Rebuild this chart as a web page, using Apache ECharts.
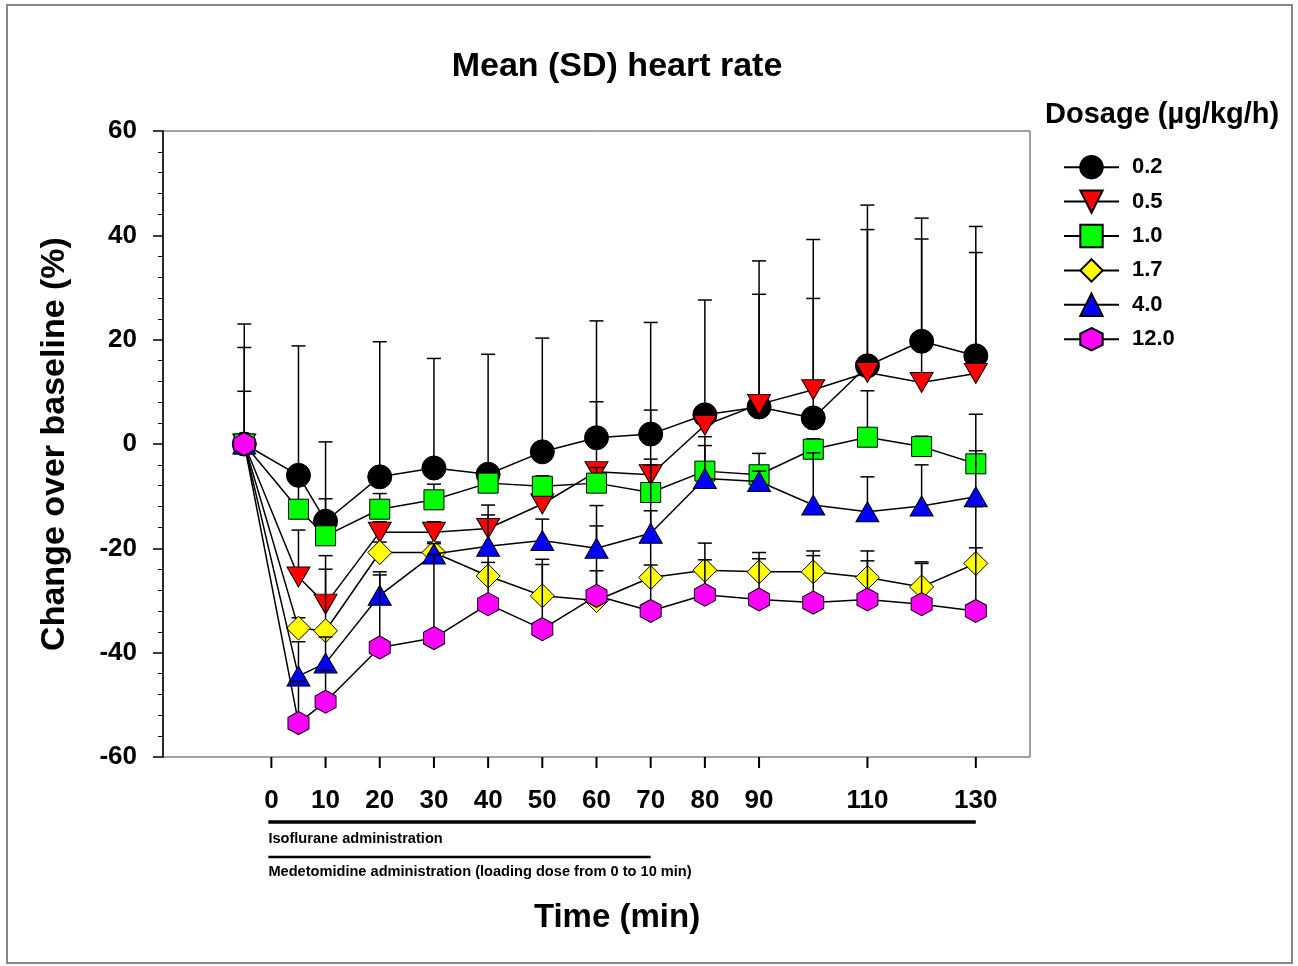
<!DOCTYPE html>
<html><head><meta charset="utf-8">
<script src="https://cdn.jsdelivr.net/npm/echarts@6/dist/echarts.min.js"></script>
<style>html,body{margin:0;padding:0;background:#fff}#c{width:1298px;height:966px}</style>
</head><body><div id="c"></div>
<script>
// ---- data ----
const times = [-5, 5, 10, 20, 30, 40, 50, 60, 70, 80, 90, 100, 110, 120, 130];
const xTickValues = [0, 10, 20, 30, 40, 50, 60, 70, 80, 90, 110, 130];
const yTickMin = -60, yTickMax = 60, yTickStep = 20;
const dosages = ['0.2', '0.5', '1.0', '1.7', '4.0', '12.0'];

const mean02 = [0, -6.0, -14.8, -6.3, -4.6, -5.8, -1.5, 1.2, 1.9, 5.6, 7.1, 5.0, 15.0, 19.7, 16.9];
const sd02   = [23.0, 24.8, 15.2, 25.9, 21.0, 23.0, 21.8, 22.4, 21.4, 22.0, 28.0, 22.9, 30.8, 23.6, 24.8];
const mean05 = [0, -25.5, -30.7, -16.9, -16.9, -16.2, -11.5, -5.3, -5.9, 3.6, 7.6, 10.4, 13.7, 11.8, 13.5];
const sd05   = [18.5, 9.0, 9.3, 2.0, 2.0, 4.5, 2.0, 13.4, 12.4, 2.0, 21.1, 28.8, 27.4, 27.5, 23.2];
const mean10 = [0, -12.5, -17.6, -12.5, -10.7, -7.5, -8.1, -7.5, -9.3, -5.2, -5.9, -1.0, 1.3, -0.5, -3.8];
const sd10   = [10.1, 5.0, 7.1, 3.0, 3.0, 2.0, 2.0, 3.0, 6.4, 4.9, 4.1, 2.0, 8.9, 2.0, 9.5];
const mean17 = [0, -35.3, -35.8, -20.8, -20.8, -25.3, -29.1, -30.0, -25.6, -24.2, -24.5, -24.5, -25.6, -27.4, -22.9];
const sd17   = [0, 2.0, 11.8, 2.0, 2.0, 5.0, 6.0, 14.3, 12.8, 5.2, 2.5, 4.0, 5.1, 4.5, 3.0];
const mean40 = [0, -44.5, -42.0, -29.0, -21.1, -19.6, -18.5, -20.0, -17.1, -6.6, -7.2, -11.7, -13.0, -11.9, -10.1];
const sd40   = [0, 6.6, 5.0, 4.5, 2.0, 6.0, 4.1, 8.2, 13.1, 8.0, 2.0, 10.0, 6.7, 7.9, 8.8];
const mean120 = [0, -53.5, -49.4, -39.0, -37.2, -30.7, -35.5, -29.1, -32.0, -28.9, -29.8, -30.4, -29.8, -30.7, -32.0];
const sd120   = [0, 8.0, 6.0, 13.9, 16.0, 8.0, 13.4, 4.8, 8.8, 6.7, 9.0, 9.0, 7.4, 8.1, 20.0];

const isofluranePeriod = [0, 130];
const medetomidinePeriod = [0, 70];

// ---- styles ----
const FONT = '"Liberation Sans", Arial, sans-serif';
const means = [mean02, mean05, mean10, mean17, mean40, mean120];
const sds = [sd02, sd05, sd10, sd17, sd40, sd120];
const styles = [
  {color: '#000000', symbol: 'circle', size: 24},
  {color: '#ff0000', symbol: 'path://M-1,-0.85 L1,-0.85 L0,0.85 Z', size: [23, 20]},
  {color: '#00ff00', symbol: 'rect', size: 20},
  {color: '#ffff00', symbol: 'diamond', size: 24},
  {color: '#0000ff', symbol: 'triangle', size: [23, 20]},
  {color: '#ff00ff', symbol: 'path://M0,-1 L0.866,-0.5 L0.866,0.5 L0,1 L-0.866,0.5 L-0.866,-0.5 Z', size: [21, 23]}
];

function errRender(params, api) {
  const x = api.value(0), m = api.value(1), h = api.value(2);
  if (h === m) return null;
  const p0 = api.coord([x, m]);
  const p1 = api.coord([x, h]);
  const hw = 7;
  return {type: 'group', children: [
    {type: 'line', shape: {x1: p0[0], y1: p0[1], x2: p1[0], y2: p1[1]}, style: {stroke: '#000', lineWidth: 1.5}},
    {type: 'line', shape: {x1: p1[0] - hw, y1: p1[1], x2: p1[0] + hw, y2: p1[1]}, style: {stroke: '#000', lineWidth: 1.5}}
  ]};
}

// x-axis tick marks only at the labelled times (drawn through the axis scale)
function tickRender(params, api) {
  const p = api.coord([api.value(0), api.value(1)]);
  return {type: 'rect', shape: {x: p[0] - 1, y: p[1], width: 2, height: 11}, style: {fill: '#000'}};
}

const series = [];
dosages.forEach((d, i) => {
  const m = means[i], s = sds[i];
  series.push({
    name: d + ' SD', type: 'custom', z: 10 + 2 * i, renderItem: errRender,
    encode: {x: 0, y: [1, 2]},
    data: times.map((t, k) => [t, m[k], m[k] + s[k]]),
    silent: true
  });
  series.push({
    name: d, type: 'line', z: 11 + 2 * i,
    data: times.map((t, k) => [t, m[k]]),
    symbol: styles[i].symbol, symbolSize: styles[i].size,
    showAllSymbol: true,
    lineStyle: {color: '#000', width: 1.5},
    itemStyle: {color: styles[i].color, borderColor: '#000', borderWidth: 1, opacity: 1},
    emphasis: {disabled: true}
  });
});
series.push({
  name: 'xticks', type: 'custom', z: 30, clip: false, silent: true, renderItem: tickRender,
  encode: {x: 0, y: 1},
  data: xTickValues.map(v => [v, yTickMin])
});

const chart = echarts.init(document.getElementById('c'));
const option = {
  animation: false,
  backgroundColor: '#fff',
  textStyle: {fontFamily: FONT},
  grid: {left: 163, top: 131, width: 867, height: 626, show: true, borderColor: '#444', borderWidth: 1, containLabel: false},
  xAxis: {
    type: 'value', min: -20, max: 140, interval: 10, offset: 0,
    axisLine: {show: false, onZero: false},
    axisTick: {show: false},
    axisLabel: {customValues: xTickValues, margin: 31, fontSize: 26, fontWeight: 'bold', color: '#000', fontFamily: FONT},
    splitLine: {show: false}
  },
  yAxis: {
    type: 'value', min: yTickMin, max: yTickMax, interval: yTickStep,
    axisLine: {show: true, onZero: false, lineStyle: {color: '#000', width: 1.5}},
    axisTick: {show: true, length: 10, lineStyle: {color: '#000', width: 1.5}},
    minorTick: {show: true, splitNumber: 5, length: 5, lineStyle: {color: '#000', width: 1}},
    axisLabel: {margin: 26, fontSize: 26, fontWeight: 'bold', color: '#000', fontFamily: FONT},
    splitLine: {show: false},
    name: 'Change over baseline (%)', nameLocation: 'middle', nameGap: 91, nameRotate: 90,
    nameTextStyle: {fontSize: 34, fontWeight: 'bold', color: '#000', fontFamily: FONT}
  },
  legend: {
    orient: 'vertical', left: 1058, top: 150, itemWidth: 55, itemHeight: 28, itemGap: 10,
    data: dosages, selectedMode: false,
    textStyle: {fontSize: 22, fontWeight: 'bold', color: '#000', fontFamily: FONT, padding: [0, 0, 0, 8]}
  },
  graphic: [
    {id: 'frame', type: 'rect', shape: {x: 7, y: 5, width: 1285, height: 958}, style: {fill: 'none', stroke: '#888', lineWidth: 2}, silent: true},
    {id: 'title', type: 'text', x: 617, y: 67, style: {text: 'Mean (SD) heart rate', font: 'bold 34px ' + FONT, fill: '#000', textAlign: 'center', textVerticalAlign: 'middle'}},
    {id: 'xname', type: 'text', x: 617, y: 918, style: {text: 'Time (min)', font: 'bold 33px ' + FONT, fill: '#000', textAlign: 'center', textVerticalAlign: 'middle'}},
    {id: 'legtitle', type: 'text', x: 1045, y: 115, style: {text: 'Dosage (µg/kg/h)', font: 'bold 29px ' + FONT, fill: '#000', textAlign: 'left', textVerticalAlign: 'middle'}}
  ],
  series: series
};
chart.setOption(option);

// administration bars below the axis, placed through the axis scale
const px = v => chart.convertToPixel({xAxisIndex: 0}, v);
chart.setOption({graphic: [
  {id: 'isoLine', type: 'line', shape: {x1: px(isofluranePeriod[0]) - 3, y1: 822, x2: px(isofluranePeriod[1]), y2: 822}, style: {stroke: '#000', lineWidth: 3.5}},
  {id: 'isoText', type: 'text', x: px(isofluranePeriod[0]) - 3, y: 839, style: {text: 'Isoflurane administration', font: 'bold 14.6px ' + FONT, fill: '#000', textAlign: 'left', textVerticalAlign: 'middle'}},
  {id: 'medLine', type: 'line', shape: {x1: px(medetomidinePeriod[0]) - 3, y1: 857, x2: px(medetomidinePeriod[1]), y2: 857}, style: {stroke: '#000', lineWidth: 2.5}},
  {id: 'medText', type: 'text', x: px(medetomidinePeriod[0]) - 3, y: 872, style: {text: 'Medetomidine administration (loading dose from 0 to 10 min)', font: 'bold 14.6px ' + FONT, fill: '#000', textAlign: 'left', textVerticalAlign: 'middle'}}
]});
</script></body></html>
